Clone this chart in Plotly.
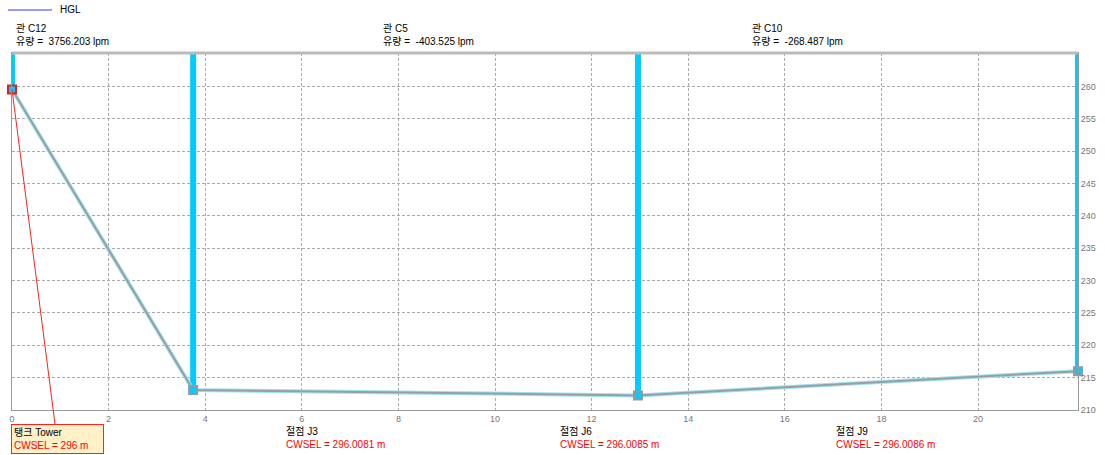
import plotly.graph_objects as go

# 절점 (nodes) along the profile
node_names = ["탱크 Tower", "절점 J3", "절점 J6", "절점 J9"]
node_dist = [0, 3.75, 12.96, 22.07]
node_hgl = [259.55, 213.1, 212.25, 216.0]
node_cwsel = ["296", "296.0081", "296.0085", "296.0086"]

# 관 (pipes)
pipe_names = ["관 C12", "관 C5", "관 C10"]
pipe_flow = ["3756.203", "-403.525", "-268.487"]

x_ticks = [0, 2, 4, 6, 8, 10, 12, 14, 16, 18, 20]
y_ticks = [210, 215, 220, 225, 230, 235, 240, 245, 250, 255, 260]
y_top = 265.18
x_max = 22.07

FONT = "Liberation Sans, Arial, Noto Sans CJK KR, sans-serif"
CYAN = "#00CCFF"

W, H = 1105, 455
L, R, T, B = 12, 27, 53, 45
pw, ph = W - L - R, H - T - B


def px_x(p):
    return (p - L) / pw


def px_y(p):
    return 1 - (p - T) / ph


fig = go.Figure()

# cyan vertical bars above each node
for d, h in zip(node_dist, node_hgl):
    fig.add_trace(go.Scatter(
        x=[d, d], y=[h, y_top], mode="lines",
        line=dict(color=CYAN, width=6), cliponaxis=False,
        showlegend=False, hoverinfo="skip"))

# HGL line (cyan glow + grey core)
fig.add_trace(go.Scatter(
    x=node_dist, y=node_hgl, mode="lines",
    line=dict(color="#9fe2f2", width=4), showlegend=False, hoverinfo="skip"))
fig.add_trace(go.Scatter(
    x=node_dist, y=node_hgl, mode="lines",
    line=dict(color="#979fa2", width=2), showlegend=False, name="HGL"))

# node markers
fig.add_trace(go.Scatter(
    x=node_dist, y=node_hgl, mode="markers", cliponaxis=False,
    marker=dict(symbol="square", size=8, color=CYAN,
                line=dict(color=["#e02020", "#8c9ca2", "#8c9ca2", "#8c9ca2"], width=2)),
    showlegend=False, hoverinfo="skip"))

grid = dict(showgrid=True, gridcolor="#aaaaaa", griddash="3px,2px", gridwidth=1,
            showline=True, linecolor="#999999", linewidth=1, mirror=True,
            zeroline=False, ticks="",
            tickfont=dict(family=FONT, size=9, color="#777777"))

fig.update_layout(
    width=W, height=H,
    margin=dict(l=L, r=R, t=T, b=B, autoexpand=False),
    plot_bgcolor="white", paper_bgcolor="white",
    xaxis=dict(range=[0, x_max], tickvals=x_ticks, **grid),
    yaxis=dict(range=[210, y_top], tickvals=y_ticks, side="right", **grid),
    font=dict(family=FONT, size=10, color="black"),
    showlegend=False,
)

# thick grey top border
fig.add_shape(type="line", xref="paper", yref="paper", x0=0, x1=1, y0=1, y1=1,
              line=dict(color="#bbbbbb", width=3), layer="above")

# legend (HGL)
fig.add_shape(type="line", xref="paper", yref="paper",
              x0=px_x(8), x1=px_x(52), y0=px_y(10), y1=px_y(10),
              line=dict(color="#7878ff", width=1.5))
fig.add_annotation(xref="paper", yref="paper", x=px_x(58), y=px_y(10),
                   text="HGL", showarrow=False, xanchor="left", yanchor="middle",
                   font=dict(size=10))

# pipe labels at the top
pipe_px = [14, 381, 750]
for name, flow, p in zip(pipe_names, pipe_flow, pipe_px):
    fig.add_annotation(
        xref="paper", yref="paper", x=px_x(p), y=1, yshift=4,
        text=f"{name}<br>유량 =  {flow} lpm", showarrow=False,
        xanchor="left", yanchor="bottom", align="left", font=dict(size=10))

# node labels at the bottom
node_px = [None, 284, 558, 834]
for i in range(1, 4):
    fig.add_annotation(
        xref="paper", yref="paper", x=px_x(node_px[i]), y=0, yshift=-13,
        text=f"{node_names[i]}<br><span style='color:#ff0000'>CWSEL = {node_cwsel[i]} m</span>",
        showarrow=False, xanchor="left", yanchor="top", align="left",
        font=dict(size=10))

# tower callout box with red leader line
fig.add_annotation(
    x=node_dist[0], y=node_hgl[0], xref="x", yref="y",
    ax=45, ay=350, axref="pixel", ayref="pixel",
    text=f"{node_names[0]}" + "&nbsp;" * 14
         + f"<br><span style='color:#ff0000'>CWSEL = {node_cwsel[0]} m</span>",
    showarrow=True, arrowhead=0, arrowcolor="#ff2020", arrowwidth=1,
    align="left", bgcolor="#FFF0C8", bordercolor="#ff2020", borderwidth=1,
    borderpad=2, font=dict(size=10))

fig.write_html("out.html", config={"displayModeBar": False},
               post_script="document.body.style.margin='0';")
